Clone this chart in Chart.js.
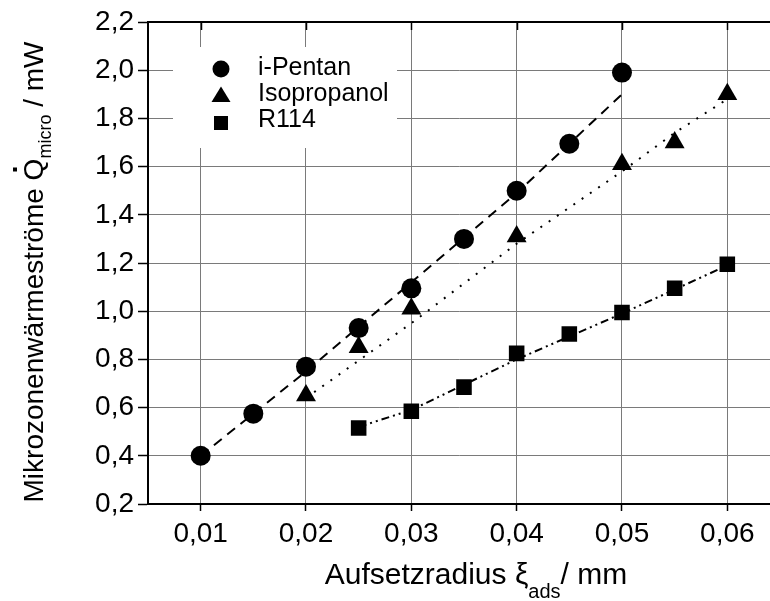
<!DOCTYPE html>
<html>
<head>
<meta charset="utf-8">
<script src="https://cdn.jsdelivr.net/npm/chart.js@4/dist/chart.umd.min.js"></script>
<style>
  html, body { margin: 0; padding: 0; background: #fff; overflow: hidden; }
  /* canvas is a little wider than the page so the plot runs to the right edge */
  #wrap { width: 770px; height: 601px; position: relative; overflow: hidden; }
</style>
</head>
<body>
<div id="wrap"><canvas id="qChart" width="782" height="601"></canvas></div>
<script>
const FONT = '"Liberation Sans", Arial, Helvetica, sans-serif';

// axis ticks
const xTicks = [0.01, 0.02, 0.03, 0.04, 0.05, 0.06];
const yTicks = [0.2, 0.4, 0.6, 0.8, 1.0, 1.2, 1.4, 1.6, 1.8, 2.0, 2.2];

// measured points
const pentanX = [0.01, 0.015, 0.02, 0.025, 0.03, 0.035, 0.04, 0.045, 0.05];
const pentanY = [0.40, 0.575, 0.77, 0.93, 1.095, 1.30, 1.50, 1.695, 1.99];
const isoX = [0.02, 0.025, 0.03, 0.04, 0.05, 0.055, 0.06];
const isoY = [0.65, 0.85, 1.01, 1.31, 1.61, 1.70, 1.90];
const r114X = [0.025, 0.03, 0.035, 0.04, 0.045, 0.05, 0.055, 0.06];
const r114Y = [0.515, 0.585, 0.685, 0.825, 0.905, 0.995, 1.095, 1.195];

// fitted curves
const pentanFitX = [0.01, 0.02, 0.03, 0.04, 0.05];
const pentanFitY = [0.40, 0.75, 1.12, 1.49, 1.90];
const isoFitX = [0.02, 0.03, 0.04, 0.05, 0.055, 0.06];
const isoFitY = [0.64, 0.95, 1.28, 1.58, 1.74, 1.88];
const r114FitX = [0.025, 0.03, 0.04, 0.05, 0.06];
const r114FitY = [0.52, 0.59, 0.80, 0.99, 1.19];

const seriesNames = ['i-Pentan', 'Isopropanol', 'R114'];

const toPts = (xs, ys) => xs.map((x, i) => ({ x: x, y: ys[i] }));

const markerSet = (label, xs, ys, style, r) => ({
  label: label,
  data: toPts(xs, ys),
  showLine: false,
  pointStyle: style,
  pointRadius: r,
  pointBackgroundColor: '#000',
  pointBorderColor: '#000',
  pointBorderWidth: 0
});

const fitSet = (xs, ys, dash) => ({
  data: toPts(xs, ys),
  showLine: true,
  borderColor: '#000',
  borderWidth: 2,
  borderDash: dash,
  pointRadius: 0,
  fill: false
});

// draws a row of text pieces (with sub/superscripts) centred on x0
function drawParts(ctx, parts, x0, y0) {
  let total = 0;
  parts.forEach(p => {
    ctx.font = p.size + 'px ' + FONT;
    p.w = ctx.measureText(p.t).width;
    total += p.w;
  });
  let x = x0 - total / 2;
  parts.forEach(p => {
    ctx.font = p.size + 'px ' + FONT;
    ctx.fillText(p.t, x, y0 + (p.dy || 0));
    p.x = x;
    x += p.w;
  });
  return parts;
}

const decorations = {
  id: 'decorations',
  beforeDatasetsDraw(chart) {
    const ctx = chart.ctx;
    const area = chart.chartArea;
    const xs = chart.scales.x;
    ctx.save();

    // top frame with inward ticks
    ctx.strokeStyle = '#000';
    ctx.lineWidth = 2;
    ctx.beginPath();
    ctx.moveTo(area.left, area.top);
    ctx.lineTo(area.right, area.top);
    ctx.stroke();
    ctx.lineWidth = 1.5;
    xTicks.forEach(v => {
      const px = Math.round(xs.getPixelForValue(v)) + 0.5;
      ctx.beginPath();
      ctx.moveTo(px, area.top);
      ctx.lineTo(px, area.top + 8);
      ctx.stroke();
    });

    // legend box
    const bx = area.left + 25, by = area.top + 25;
    ctx.fillStyle = '#fff';
    ctx.fillRect(bx, by, 224, 101);
    ctx.fillStyle = '#000';
    const sx = area.left + 73;
    const rows = [area.top + 47, area.top + 73, area.top + 101];
    ctx.beginPath();
    ctx.arc(sx, rows[0], 8.5, 0, Math.PI * 2);
    ctx.fill();
    ctx.beginPath();
    ctx.moveTo(sx, rows[1] - 8.5);
    ctx.lineTo(sx + 9.5, rows[1] + 7);
    ctx.lineTo(sx - 9.5, rows[1] + 7);
    ctx.closePath();
    ctx.fill();
    ctx.fillRect(sx - 7, rows[2] - 7, 14, 14);

    ctx.font = '25px ' + FONT;
    ctx.textBaseline = 'middle';
    ctx.textAlign = 'left';
    seriesNames.forEach((n, i) => ctx.fillText(n, sx + 37, rows[i] - 1 + (i === 2 ? -2 : 0)));
    ctx.restore();
  },
  afterDraw(chart) {
    const ctx = chart.ctx;
    ctx.save();
    ctx.fillStyle = '#000';
    ctx.textBaseline = 'alphabetic';
    ctx.textAlign = 'left';

    // x axis title
    drawParts(ctx, [
      { t: 'Aufsetzradius \u03be', size: 30 },
      { t: 'ads', size: 20, dy: 14 },
      { t: '/ mm', size: 30 }
    ], 476, 584);

    // y axis title, rotated, with the dot over Q
    ctx.translate(43, 272);
    ctx.rotate(-Math.PI / 2);
    const parts = drawParts(ctx, [
      { t: 'Mikrozonenw\u00e4rmestr\u00f6me ', size: 28 },
      { t: 'Q', size: 28 },
      { t: 'micro', size: 18, dy: 8 },
      { t: ' / mW', size: 28 }
    ], 0, 0);
    const q = parts[1];
    ctx.fillRect(q.x + q.w / 2 - 2, -30, 4, 4);
    ctx.restore();
  }
};

const ctx = document.getElementById('qChart').getContext('2d');
new Chart(ctx, {
  type: 'scatter',
  data: {
    datasets: [
      markerSet('i-Pentan', pentanX, pentanY, 'circle', 10),
      markerSet('Isopropanol', isoX, isoY, 'triangle', 11.5),
      markerSet('R114', r114X, r114Y, 'rect', 11),
      fitSet(pentanFitX, pentanFitY, [10, 7]),
      fitSet(isoFitX, isoFitY, [2, 8]),
      fitSet(r114FitX, r114FitY, [8, 4, 2, 4, 2, 4])
    ]
  },
  options: {
    responsive: false,
    animation: false,
    layout: { padding: { top: 22, left: 0, right: 0, bottom: 0 } },
    plugins: {
      legend: { display: false },
      tooltip: { enabled: false }
    },
    scales: {
      x: {
        type: 'linear',
        min: 0.005,
        max: 0.0641,
        afterBuildTicks: s => { s.ticks = xTicks.map(v => ({ value: v })); },
        afterFit: s => { s.height = 97; },
        ticks: {
          autoSkip: false,
          maxRotation: 0,
          padding: 6,
          color: '#000',
          font: { family: FONT, size: 28 },
          callback: v => v.toFixed(2).replace('.', ',')
        },
        grid: { color: '#7a7a7a', lineWidth: 1, tickLength: 7, tickColor: '#000', tickWidth: 1.5 },
        border: { color: '#000', width: 2 }
      },
      y: {
        type: 'linear',
        min: 0.2,
        max: 2.2,
        afterBuildTicks: s => { s.ticks = yTicks.map(v => ({ value: v })); },
        afterFit: s => { s.width = 148; },
        ticks: {
          autoSkip: false,
          padding: 4,
          color: '#000',
          font: { family: FONT, size: 28 },
          callback: v => v.toFixed(1).replace('.', ',')
        },
        grid: { color: '#7a7a7a', lineWidth: 1, tickLength: 10, tickColor: '#000', tickWidth: 1.5 },
        border: { color: '#000', width: 2 }
      }
    }
  },
  plugins: [decorations]
});
</script>
</body>
</html>
